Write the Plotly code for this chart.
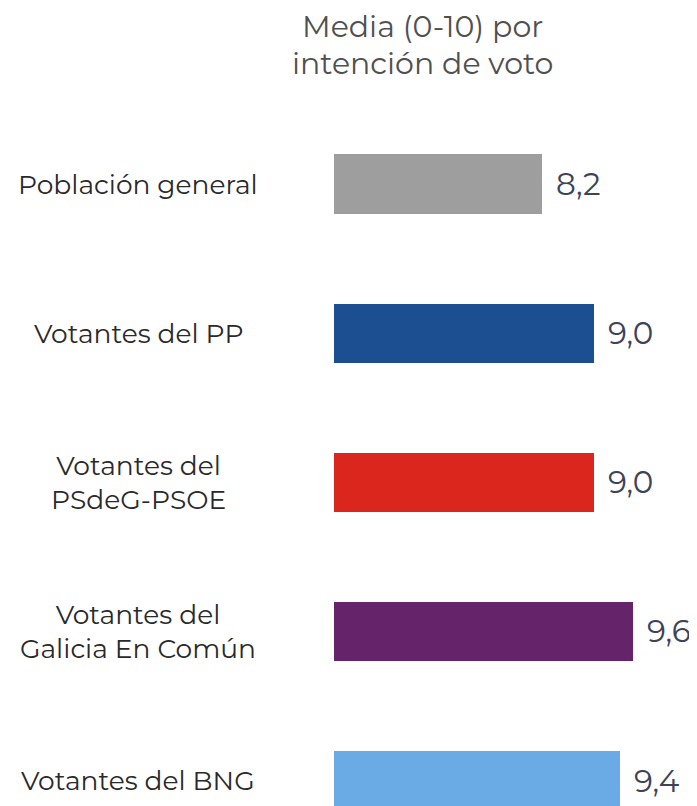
import plotly.graph_objects as go

categories = ["Población general", "Votantes del PP", "Votantes del<br>PSdeG-PSOE",
              "Votantes del<br>Galicia En Común", "Votantes del BNG"]
values = [8.2, 9.0, 9.0, 9.6, 9.4]
value_labels = ["8,2", "9,0", "9,0", "9,6", "9,4"]
colors = ["#9d9e9d", "#1b4f91", "#db261d", "#65246a", "#6aabe5"]
title_lines = ["Media (0-10) por", "intención de voto"]

# page body has an 8px margin, so the figure is offset by 8px
OFF = 8
W, H = 697 - OFF, 806 - OFF
L, R, T, B = 334 - OFF, 0, 110 - OFF, 0
FONT = "Montserrat, DejaVu Sans, sans-serif"

ypos = list(range(len(categories)))
fig = go.Figure(go.Bar(
    x=[v - 5 for v in values], base=5, y=ypos, orientation="h",
    marker=dict(color=colors, line=dict(width=0)), width=0.396,
    hoverinfo="skip",
))

plot_h = H - T - B
plot_w = W - L - R
px_per_unit = 149.1
first_c = 184 - OFF
last_c = 780.5 - OFF
y_top = -(first_c - T) / px_per_unit
y_bot = (len(categories) - 1) + (H - last_c) / px_per_unit

fig.update_xaxes(range=[5, 5 + plot_w / 64.9], visible=False)
fig.update_yaxes(range=[y_bot, y_top], visible=False)

label_x = (138 - OFF - L) / plot_w

for i, (c, v, t) in enumerate(zip(categories, values, value_labels)):
    fig.add_annotation(x=label_x, xref="paper", y=i, yref="y", text=c,
                       showarrow=False, xanchor="center", yanchor="middle", align="center",
                       font=dict(family=FONT, size=26.5, color="#2a2a2a"))
    fig.add_annotation(x=v, xref="x", y=i, yref="y", text=t, showarrow=False,
                       xanchor="left", yanchor="middle", xshift=12,
                       font=dict(family=FONT, size=31, color="#3e4358"))

for line, py in zip(title_lines, [26.5, 63.5]):
    fig.add_annotation(x=(422 - OFF - L) / plot_w, xref="paper",
                       y=(H - (py - OFF) - B) / plot_h, yref="paper",
                       text=line, showarrow=False, xanchor="center", yanchor="middle",
                       align="center", font=dict(family=FONT, size=30, color="#505050"))

fig.update_layout(width=W, height=H, margin=dict(l=L, r=R, t=T, b=B, pad=0),
                  paper_bgcolor="white", plot_bgcolor="white", showlegend=False,
                  bargap=0)

fig.write_html("out.html")
